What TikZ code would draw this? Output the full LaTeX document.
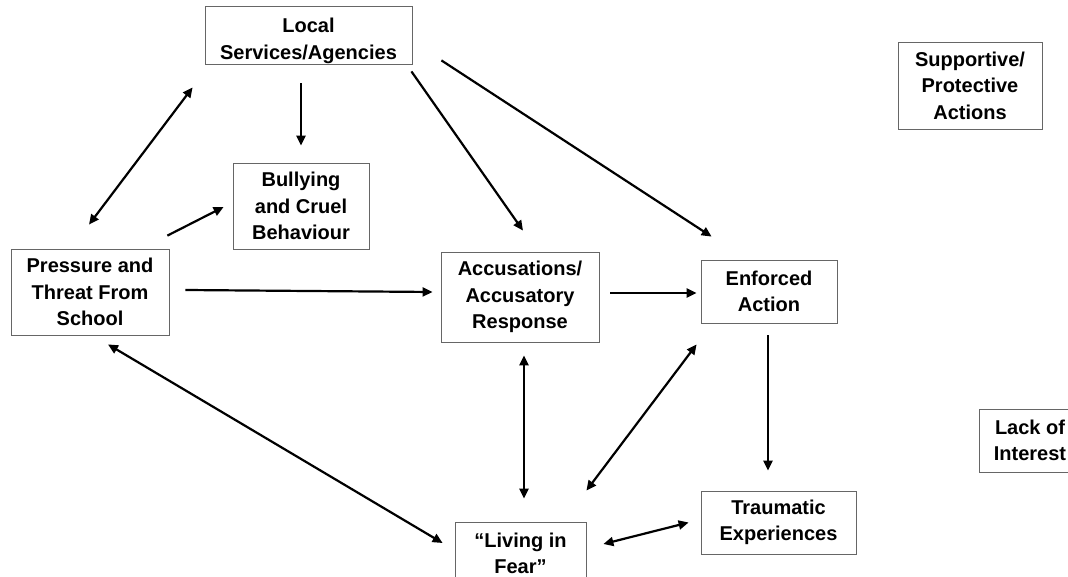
\documentclass[tikz,border=0pt]{standalone}
\usepackage{fontspec}
\setmainfont{Liberation Sans}
\usetikzlibrary{arrows.meta}

\begin{document}
\begin{tikzpicture}[x=1pt,y=-1pt]

      \useasboundingbox (0,0) rectangle (1068,577);
      \clip (0,0) rectangle (1068,577);

      \begin{scope}[every node/.style={draw=black!60,line width=0.8pt,align=center,inner sep=0pt,font=\bfseries\fontsize{20}{26.5}\selectfont}]
        \node[minimum width=207pt,minimum height=58pt,text height=53pt] (local) at (308.5,35) {Local\\Services/Agencies};
        \node[minimum width=144pt,minimum height=87pt] (supp)   at (970,85.5)   {Supportive/\\Protective\\Actions};
        \node[minimum width=136pt,minimum height=86pt] (bully)  at (301,206)    {Bullying\\and Cruel\\Behaviour};
        \node[minimum width=158pt,minimum height=86pt] (press)  at (90,292)     {Pressure and\\Threat From\\School};
        \node[minimum width=158pt,minimum height=90pt] (accus)  at (520,297)    {Accusations/\\Accusatory\\Response};
        \node[minimum width=136pt,minimum height=63pt] (enf)    at (769,291.5)  {Enforced\\Action};
        \node[minimum width=102pt,minimum height=63pt] (lack)   at (1030,440.5) {Lack of\\Interest};
        \node[minimum width=155pt,minimum height=63pt] (trauma) at (778.5,522.5) {Traumatic\\Experiences};
        \node[minimum width=131pt,minimum height=63pt] (fear)   at (520.5,553.5) {“Living in\\Fear”};
      \end{scope}

      \begin{scope}[every edge/.style={draw,line width=2.2pt,-{Triangle[length=10pt,width=9pt]}}]
        \path ([xshift=-7.5pt,yshift=-19pt]local.south)   edge ([yshift=17pt]bully.north);
        \path ([xshift=-1pt,yshift=-7pt]local.south east) edge ([xshift=3pt,yshift=21pt]accus.north);
        \path ([xshift=29pt,yshift=4pt]local.south east)  edge ([xshift=11pt,yshift=23pt]enf.north west);
        \path ([xshift=-2pt,yshift=13pt]press.north east) edge ([xshift=-9pt,yshift=-1pt]bully.west);
        \path ([xshift=16pt,yshift=2pt]press.east)        edge ([xshift=-8pt,yshift=5pt]accus.west);
        \path ([xshift=11pt,yshift=4pt]accus.east)        edge ([xshift=-4pt,yshift=-1.5pt]enf.west);
        \path ([xshift=-1pt,yshift=-12pt]enf.south)       edge ([xshift=-10.5pt,yshift=20pt]trauma.north);
      \end{scope}

      \begin{scope}[every edge/.style={draw,line width=2.2pt,{Triangle[length=10pt,width=9pt]}-{Triangle[length=10pt,width=9pt]}}]
        \path ([xshift=-12pt,yshift=-23pt]local.south west) edge ([xshift=-1pt,yshift=24pt]press.north);
        \path ([xshift=4pt,yshift=-13pt]accus.south)        edge ([xshift=3.5pt,yshift=23pt]fear.north);
        \path ([xshift=-4pt,yshift=-21pt]enf.south west)    edge ([yshift=31pt]fear.north east);
        \path ([xshift=18pt,yshift=-9pt]press.south)        edge ([xshift=-12pt,yshift=10.5pt]fear.west);
        \path ([xshift=17pt,yshift=9.5pt]fear.east)         edge ([xshift=-12pt]trauma.west);
      \end{scope}

    \end{tikzpicture}
\end{document}
